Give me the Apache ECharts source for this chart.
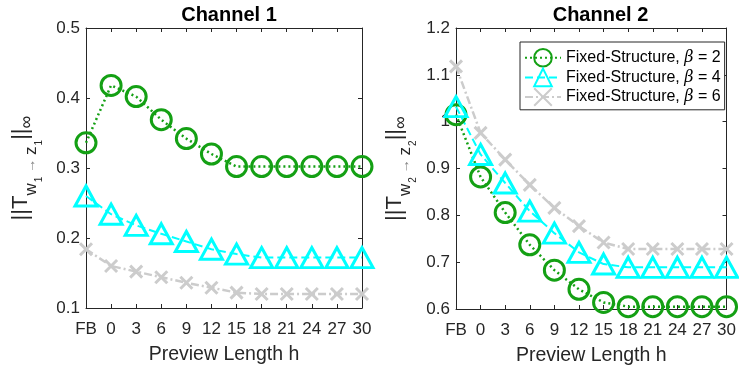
<!DOCTYPE html>
<html><head><meta charset="utf-8">
<script src="https://cdn.jsdelivr.net/npm/echarts@6/dist/echarts.min.js"></script>
<style>html,body{margin:0;padding:0;background:#fff}#c{width:739px;height:371px}</style>
</head><body><div id="c"></div>
<script>
const categories = ['FB','0','3','6','9','12','15','18','21','24','27','30'];
const ch1Beta2 = [0.336,0.418,0.402,0.369,0.342,0.320,0.302,0.302,0.302,0.302,0.302,0.302];
const ch1Beta4 = [0.260,0.234,0.218,0.206,0.195,0.184,0.177,0.172,0.172,0.172,0.172,0.172];
const ch1Beta6 = [0.184,0.160,0.152,0.144,0.136,0.129,0.122,0.120,0.120,0.120,0.120,0.120];
const ch2Beta2 = [1.015,0.882,0.806,0.737,0.683,0.642,0.614,0.605,0.605,0.605,0.605,0.605];
const ch2Beta4 = [1.032,0.930,0.869,0.809,0.762,0.721,0.696,0.689,0.689,0.689,0.689,0.689];
const ch2Beta6 = [1.118,0.976,0.919,0.865,0.816,0.777,0.742,0.728,0.728,0.728,0.728,0.728];
const seriesNames = ['Fixed-Structure, β = 2','Fixed-Structure, β = 4','Fixed-Structure, β = 6'];
const titles = ['Channel 1','Channel 2'];
const xName = 'Preview Length h';

const FONT = 'Liberation Sans';
const AX = '#262626';
const GREEN = '#14A014', CYAN = '#00FFFF', GRAY = '#CCCCCC';

const chart = echarts.init(document.getElementById('c'));
const grids = [
  {left: 86, top: 28, width: 276, height: 280},
  {left: 456, top: 28, width: 279, height: 281}
];
const yRanges = [{min:0.1,max:0.5,interval:0.1},{min:0.6,max:1.2,interval:0.1}];
const yNameGaps = [42, 38];

function yName(k){
  return '{a|||T}{b|w}{c|'+k+'}{d| → }{b|z}{c|'+k+'}{a|||}{e|∞}';
}
const yRich = {
  a:{fontSize:22, fontFamily:FONT, color:AX, lineHeight:22, verticalAlign:'bottom', padding:[0,0,12,0]},
  b:{fontSize:17, fontFamily:FONT, color:AX, lineHeight:17, verticalAlign:'bottom', padding:[0,0,4,0]},
  c:{fontSize:10, fontFamily:FONT, color:AX, lineHeight:10, verticalAlign:'bottom', padding:[0,0,0,1]},
  d:{fontSize:14, fontFamily:FONT, color:'#8a8a8a', lineHeight:14, verticalAlign:'bottom', padding:[0,0,6,0]},
  e:{fontSize:18, fontFamily:FONT, color:AX, lineHeight:18, verticalAlign:'bottom', padding:[0,0,8,0]}
};

const xAxes = [], yAxes = [];
grids.forEach((g,i)=>{
  xAxes.push({type:'category', gridIndex:i, data:categories, boundaryGap:false,
    axisLine:{lineStyle:{color:AX,width:1}}, axisTick:{inside:true,length:4,lineStyle:{color:AX}},
    axisLabel:{color:AX,fontSize:17,fontFamily:FONT,margin:13,interval:0},
    name:xName, nameLocation:'middle', nameGap:37,
    nameTextStyle:{color:AX,fontSize:19.5,fontFamily:FONT}});
  xAxes.push({type:'category', gridIndex:i, data:categories, boundaryGap:false, position:'top',
    axisLine:{lineStyle:{color:AX,width:1}}, axisTick:{inside:true,length:4,lineStyle:{color:AX}},
    axisLabel:{show:false}});
  const r = yRanges[i];
  yAxes.push({type:'value', gridIndex:i, min:r.min, max:r.max, interval:r.interval,
    splitLine:{show:false},
    axisLine:{show:true,lineStyle:{color:AX,width:1}}, axisTick:{show:true,inside:true,length:4,lineStyle:{color:AX}},
    axisLabel:{color:AX,fontSize:17,fontFamily:FONT,margin:6,formatter:v=>String(+v.toFixed(2))},
    name:yName(i+1), nameLocation:'middle', nameGap:yNameGaps[i], nameRotate:90,
    nameTextStyle:{rich:yRich}});
  yAxes.push({type:'value', gridIndex:i, min:r.min, max:r.max, interval:r.interval, position:'right',
    splitLine:{show:false},
    axisLine:{show:true,lineStyle:{color:AX,width:1}}, axisTick:{show:true,inside:true,length:4,lineStyle:{color:AX}},
    axisLabel:{show:false}});
});

const styles = [
  {symbol:'circle', symbolSize:20, color:GREEN, line:[2,3], lw:2.5},
  {symbol:'triangle', symbolSize:[22,20], color:CYAN, line:[8,4], lw:2},
  {symbol:'path://M0,0L10,10M10,0L0,10', symbolSize:12, color:GRAY, line:[8,3,2,3], lw:2.5}
];
const dataSets = [[ch1Beta2,ch1Beta4,ch1Beta6],[ch2Beta2,ch2Beta4,ch2Beta6]];
const series = [];
dataSets.forEach((set,gi)=>{
  set.forEach((d,si)=>{
    const s = styles[si];
    series.push({type:'line', name:seriesNames[si], xAxisIndex:gi*2, yAxisIndex:gi*2, data:d,
      symbol:s.symbol, symbolSize:s.symbolSize, showAllSymbol:true, clip:false, animation:false,
      lineStyle:{color:s.color, width:s.lw, type:s.line},
      itemStyle:{color:'rgba(0,0,0,0)', borderColor:s.color, borderWidth:3}});
  });
});

chart.setOption({
  animation:false,
  title: titles.map((t,i)=>({text:t, left: grids[i].left + grids[i].width/2, top:0, textAlign:'center',
    textStyle:{fontSize:20,fontWeight:'bold',fontFamily:FONT,color:'#000'}})),
  grid: grids,
  xAxis: xAxes,
  yAxis: yAxes,
  legend: {data:seriesNames, orient:'vertical', left:520, top:42, itemWidth:36, itemHeight:22, itemGap:0,
    backgroundColor:'#fff', borderColor:AX, borderWidth:1, padding:[6,4,3,4],
    formatter: n => n.replace('β','{i|β}'),
    textStyle:{fontSize:16,fontFamily:FONT,color:'#000', rich:{i:{fontSize:16,fontFamily:'DejaVu Serif',fontStyle:'italic',color:'#000'}}}
  },
  series: series
});
</script></body></html>
